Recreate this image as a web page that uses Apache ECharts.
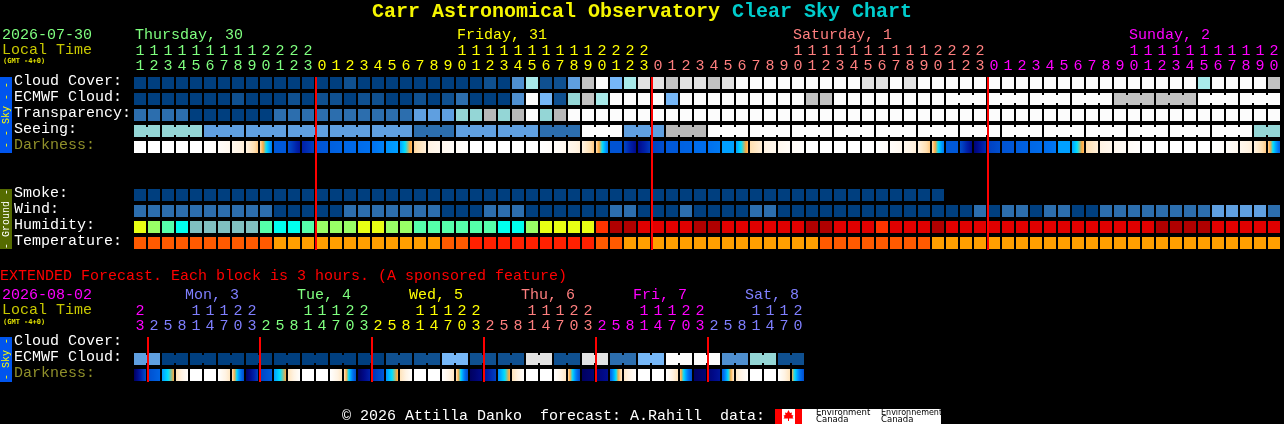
<!DOCTYPE html>
<html><head><meta charset="utf-8">
<style>html,body{margin:0;padding:0;background:#000;overflow:hidden}#c{width:1284px;height:424px}</style>
<script src="https://cdn.jsdelivr.net/npm/echarts@6/dist/echarts.min.js"></script>
</head><body><div id="c"></div>
<script>
// ---------- categories ----------
const hoursMain=[11,12,13,14,15,16,17,18,19,20,21,22,23,0,1,2,3,4,5,6,7,8,9,10,11,12,13,14,15,16,17,18,19,20,21,22,23,0,1,2,3,4,5,6,7,8,9,10,11,12,13,14,15,16,17,18,19,20,21,22,23,0,1,2,3,4,5,6,7,8,9,10,11,12,13,14,15,16,17,18,19,20];
const hoursExt=[23,2,5,8,11,14,17,20,23,2,5,8,11,14,17,20,23,2,5,8,11,14,17,20,23,2,5,8,11,14,17,20,23,2,5,8,11,14,17,20,23,2,5,8,11,14,17,20];
const rowsMain=['Cloud Cover:','ECMWF Cloud:','Transparency:','Seeing:','Darkness:',' ','  ','Smoke:','Wind:','Humidity:','Temperature:'];
const rowsExt=['Cloud Cover:','ECMWF Cloud:','Darkness:'];
const midnightsMain=[13,37,61];
const midnightsExt=[1,9,17,25,33,41];
const dayLabelsMain=['Thursday, 30','Friday, 31','Saturday, 1','Sunday, 2'];
const dayLabelCellsMain=[0,23,47,71];
const dayStartsMain=[0,13,37,61];
const dayColorsMain=['#7fff7f','#ffff00','#ff7f7f','#ff00ff'];
const dayLabelsExt=['Mon, 3','Tue, 4','Wed, 5','Thu, 6','Fri, 7','Sat, 8'];
const dayLabelCellsExt=[3,11,19,27,35,43];
const dayStartsExt=[0,1,9,17,25,33,41];
const dayColorsExt=['#ff00ff','#7f7fff','#7fff7f','#ffff00','#ff7f7f','#ff00ff','#7f7fff'];

// ---------- series values (palette indices) ----------
const cloudCover=[0,0,0,0,0,0,0,0,0,0,0,0,0,0,0,1,0,0,0,0,0,0,0,0,0,1,0,3,6,1,1,4,8,10,5,6,9,9,8,9,9,8,9,10,10,10,10,10,10,10,10,10,9,9,10,9,10,10,10,10,10,10,10,10,10,10,10,10,10,10,10,10,10,10,10,10,6,10,10,10,10,8];
const ecmwfCloud=[0,0,0,0,0,0,0,1,0,0,0,1,0,1,1,0,1,1,0,0,1,0,1,2,0,0,0,3,10,5,1,7,8,6,10,10,10,10,5,10,10,10,10,10,10,10,10,10,8,8,10,10,10,10,10,10,10,10,10,10,10,10,10,10,10,10,10,10,10,10,8,8,8,8,8,8,10,10,10,10,10,10];
const ecmwfBlocks=[1,1,1,1,1,1,1,1,1,1,1,1,1,1,1,1,1,1,1,1,1,1,1,1,1,1,1,1,1,1,1,1,1,1,1,1,1,1,1,1,1,1,1,1,1,1,1,1,1,1,1,1,1,1,1,1,1,1,3,3,3,3,3,3,3,3];
const transparency=[2,2,2,2,0,0,0,0,0,0,2,2,2,2,2,2,2,2,2,2,4,4,4,7,7,11,7,11,10,7,11,10,10,10,10,10,10,10,10,10,10,10,10,10,10,10,10,10,10,10,10,10,10,10,10,10,10,10,10,10,10,10,10,10,10,10,10,10,10,10,10,10,10,10,10,10,10,10,10,10,10,10];
const seeingBlocks=[2,3,3,3,3,3,3,3,3,3,3,3,3,3,3,3,3,3,3,3,3,3,3,3,3,3,3,2];
const seeingValues=[7,7,4,4,4,4,4,2,4,4,2,10,4,11,10,10,10,10,10,10,10,10,10,10,10,10,10,7];
const smoke=[0,0,0,0,0,0,0,0,0,0,0,0,0,0,0,0,0,0,0,0,0,0,0,0,0,0,0,0,0,0,0,0,0,0,0,0,0,0,0,0,0,0,0,0,0,0,0,0,0,0,0,0,0,0,0,0,0,0];
const wind=[2,2,2,2,2,2,2,2,2,2,0,0,0,0,0,2,2,2,2,2,2,2,0,0,0,2,2,2,0,0,0,0,0,0,2,2,0,0,0,2,0,0,0,0,2,2,0,0,0,0,0,0,0,0,0,0,0,0,0,0,2,0,2,2,0,2,2,0,0,2,2,2,2,2,2,2,2,4,4,4,4,2];
const humidity=[0,1,2,3,4,4,4,4,4,2,3,3,2,1,1,1,0,0,1,1,2,2,2,2,2,2,3,3,1,0,0,0,0,5,6,6,7,7,7,7,6,6,7,7,7,7,7,7,6,6,7,7,7,5,7,7,7,6,7,7,7,7,7,7,7,7,7,7,7,7,7,7,7,6,6,6,6,7,7,7,7,7];
const temperature=[1,1,1,1,1,1,1,1,1,1,0,0,0,0,0,0,0,0,0,0,0,0,1,1,2,2,2,2,2,2,2,2,2,1,1,0,0,0,0,0,0,0,0,0,0,0,0,0,0,1,1,1,1,1,1,1,1,0,0,0,0,0,0,0,0,0,0,0,0,0,0,0,0,0,0,0,0,0,0,0,0,0];
const darkness=[[0,0],[0,0],[0,0],[0,0],[0,0],[0,.2],[.2,.6],[.6,1.2],[1,2.4],[2,5.8],[7,7],[7.5,9.5],[9,8],[7.2,7],[6.7,6.5],[6.4,6.3],[6.2,6],[6,5.6],[5.3,5],[5,2.6],[2.2,1.2],[1,.6],[.6,.3],[.3,.1],[0,0],[0,0],[0,0],[0,0],[0,0],[0,.2],[.2,.6],[.6,1.2],[1,2.4],[2,5.8],[7.2,7.2],[7.8,10],[10,8.2],[8,7.4],[7,7],[6.6,6.5],[6.2,6.1],[6,5.8],[5,5],[5,2.6],[2,1.2],[1,.6],[.6,.3],[.3,.1],[0,0],[0,0],[0,0],[0,0],[0,0],[0,.2],[.2,.6],[.6,1.2],[1,2.4],[2,5.8],[7,7],[7.5,10],[10.5,8.5],[8,7.4],[7.2,7],[6.8,6.6],[6.4,6.2],[6.2,5.8],[5,5],[5,2.6],[2,1.2],[1,.6],[.6,.3],[.3,.1],[0,0],[0,0],[0,0],[0,0],[0,0],[0,.2],[.2,.6],[.6,1.2],[1,2.4],[2.2,6.5]];
const extEcmwfBlocks=[2,2,2,2,2,2,2,2,2,2,2,2,2,2,2,2,2,2,2,2,2,2,2,2];
const extEcmwfValues=[4,0,0,0,0,0,0,0,0,1,1,5,1,1,9,1,9,2,5,10,10,3,7,1];
const extDarkness=[[11,7.5],[7.4,6.5],[5,3],[1.8,.1],[0,0],[0,0],[0,1.6],[1.8,7.5],[11,8],[7.8,6.8],[5,3],[1.8,.1],[0,0],[0,0],[0,1.6],[1.8,7.5],[11,9],[8.5,7],[5.2,2.8],[1.8,.1],[0,0],[0,0],[0,1.6],[1.8,7.5],[11,10],[9.5,8],[5.5,2.8],[1.8,.1],[0,0],[0,0],[0,1.6],[2,7.5],[11,10.5],[10.5,9.8],[6.5,1.5],[1.5,.1],[0,0],[0,0],[0,1.8],[2.5,7.5],[11,10.5],[10.5,9.5],[6.8,1.5],[1.5,.1],[0,0],[0,0],[0,1.8],[3,7.5]];

// ---------- palettes ----------
const skyPalette=['#003f7f','#0f5090','#2c6eae','#4f8fcf','#5f9fe0','#76b7f7','#a8eaea','#94d6d6','#c2c2c2','#e2e2e2','#fcfcfc','#b8b8b8'];
const humidityPalette=['#e8ff14','#99ff66','#55ffaa','#00ffee','#80c0c0','#ff3300','#b00000','#e00000'];
const temperaturePalette=['#ff9f00','#ff5a00','#ff2000'];
const darkRamp=['#ffffff','#fff3e3','#ffdfb0','#ffa83c','#00e0ff','#00a0ff','#0070ee','#0058d8','#0040c0','#001fa8','#000a8a','#000060'];

function hex(c){return [1,3,5].map(k=>parseInt(c.substr(k,2),16));}
function rampColor(v){
  const a=Math.max(0,Math.min(darkRamp.length-1,v)),i=Math.min(darkRamp.length-2,Math.floor(a)),t=a-i;
  const p=hex(darkRamp[i]),q=hex(darkRamp[i+1]);
  return 'rgb('+p.map((x,k)=>Math.round(x+(q[k]-x)*t)).join(',')+')';
}
function gradient(pair){
  const stops=[];
  for(let k=0;k<=12;k++){stops.push({offset:k/12,color:rampColor(pair[0]+(pair[1]-pair[0])*k/12)});}
  return {type:'linear',x:0,y:0,x2:1,y2:0,colorStops:stops};
}
function expand(sizes,values){ // block sizes + per-block values -> per-cell
  const out=[];sizes.forEach((n,b)=>{for(let k=0;k<n;k++)out.push(values?values[b]:(k<n-1));});return out;
}
function cells(list,row,values,palette,blocks){
  const joins=blocks?expand(blocks):[];
  values.forEach((v,i)=>{list.push({i:i,row:row,fill:palette[v],join:!!joins[i]});});
}
function darkCells(list,row,values){values.forEach((p,i)=>{list.push({i:i,row:row,fill:p[0]===p[1]?rampColor(p[0]):gradient(p),join:false});});}

const mainCells=[];
cells(mainCells,0,cloudCover,skyPalette);
cells(mainCells,1,ecmwfCloud,skyPalette,ecmwfBlocks);
cells(mainCells,2,transparency,skyPalette);
cells(mainCells,3,expand(seeingBlocks,seeingValues),skyPalette,seeingBlocks);
darkCells(mainCells,4,darkness);
cells(mainCells,7,smoke,skyPalette);
cells(mainCells,8,wind,skyPalette);
cells(mainCells,9,humidity,humidityPalette);
cells(mainCells,10,temperature,temperaturePalette);
const extCells=[];
cells(extCells,1,expand(extEcmwfBlocks,extEcmwfValues),skyPalette,extEcmwfBlocks);
darkCells(extCells,2,extDarkness);

function blockSeries(list,ax){
  return {type:'custom',coordinateSystem:'cartesian2d',xAxisIndex:ax,yAxisIndex:ax,z:2,silent:true,
    data:list.map((c,k)=>[c.i,c.row,k]),
    renderItem:function(p,api){
      const c=list[api.value(2)],o=api.coord([api.value(0),api.value(1)]);
      const kids=[{type:'rect',shape:{x:o[0]-6,y:o[1]-6,width:12,height:12},style:{fill:c.fill}}];
      if(c.join)kids.push({type:'rect',shape:{x:o[0]+6,y:o[1]-4,width:2,height:8},style:{fill:c.fill}});
      return {type:'group',children:kids};
    }};
}
function midnightSeries(list,ax){
  return {type:'custom',coordinateSystem:'cartesian2d',xAxisIndex:ax,yAxisIndex:ax,z:5,silent:true,
    data:list.map(i=>[i,0]),
    renderItem:function(p,api){
      const o=api.coord([api.value(0),0]),s=p.coordSys;
      return {type:'rect',shape:{x:o[0]-7,y:s.y+2,width:2,height:s.height-3},style:{fill:'#ff0000'}};
    }};
}
function dayLabelSeries(labels,cellsAt,starts,colors,ax,dx,dy){
  return {type:'custom',coordinateSystem:'cartesian2d',xAxisIndex:ax,yAxisIndex:ax,z:3,silent:true,
    data:labels.map((t,k)=>[cellsAt[k],0,k]),
    renderItem:function(p,api){
      const k=api.value(2),i=api.value(0),o=api.coord([i,0]),s=p.coordSys;
      let d=0;starts.forEach((b,j)=>{if(cellsAt[k]>=b)d=j;});
      return {type:'text',x:o[0]+dx,y:s.y+dy,style:{text:labels[k],fill:colors[d],font:FONT,textAlign:'left',textVerticalAlign:'middle'}};
    }};
}
const FONT='15px "Liberation Mono"';
function digits(v){const s=String(v);return (s.length>1?s[0]:' ')+'\n'+s[s.length-1];}
function dayColor(i,starts,colors){let d=0;starts.forEach((b,j)=>{if(i>=b)d=j;});return colors[d];}
function xAxis(grid,data,starts,colors){
  return {gridIndex:grid,type:'category',position:'top',data:data.map((v,i)=>i),boundaryGap:true,
    axisLine:{show:false},axisTick:{show:false},splitLine:{show:false},
    axisLabel:{show:true,interval:0,margin:1,fontFamily:'Liberation Mono',fontSize:15,lineHeight:15,
      formatter:function(v){return digits(data[+v]);},
      color:function(v){return dayColor(+v,starts,colors);}}};
}
function yAxis(grid,data){
  return {gridIndex:grid,type:'category',inverse:true,data:data,
    axisLine:{show:false},axisTick:{show:false},splitLine:{show:false},
    axisLabel:{show:true,interval:0,margin:119,align:'left',verticalAlign:'bottom',lineHeight:3,fontFamily:'Liberation Mono',fontSize:15,
      color:function(v){return v==='Darkness:'?'#8f8f2a':'#ffffff';}}};
}
function txt(x,y,text,fill,font,align){return {type:'text',x:x,y:y,style:{text:text,fill:fill,font:font||FONT,textAlign:align||'left',textVerticalAlign:'middle'},silent:true,z:10};}
function bar(y,h,fill){return {type:'rect',shape:{x:0,y:y,width:12,height:h},style:{fill:fill},silent:true,z:9};}
function barText(yc,text,fill){return {type:'text',x:6,y:yc,rotation:Math.PI/2,style:{text:text,fill:fill,font:'10px "Liberation Mono"',textAlign:'center',textVerticalAlign:'middle'},silent:true,z:10};}

const SMALL='bold 7px "DejaVu Sans Mono"';
const chart=echarts.init(document.getElementById('c'),null,{renderer:'canvas',width:1284,height:424});
chart.setOption({
  backgroundColor:'#000000',animation:false,tooltip:{show:false},
  title:{left:642,top:0,padding:0,textAlign:'center',
    text:'{a|Carr Astronomical Observatory }{b|Clear Sky Chart}',
    textStyle:{rich:{
      a:{color:'#f5f500',fontFamily:'Liberation Mono',fontWeight:'bold',fontSize:20,lineHeight:24},
      b:{color:'#00cccc',fontFamily:'Liberation Mono',fontWeight:'bold',fontSize:20,lineHeight:24}}}},
  grid:[{left:133,top:75,width:1148,height:176,containLabel:false},{left:133,top:335,width:672,height:48,containLabel:false}],
  xAxis:[xAxis(0,hoursMain,dayStartsMain,dayColorsMain),xAxis(1,hoursExt,dayStartsExt,dayColorsExt)],
  yAxis:[yAxis(0,rowsMain),yAxis(1,rowsExt)],
  series:[blockSeries(mainCells,0),midnightSeries(midnightsMain,0),dayLabelSeries(dayLabelsMain,dayLabelCellsMain,dayStartsMain,dayColorsMain,0,-5,-40),
          blockSeries(extCells,1),midnightSeries(midnightsExt,1),dayLabelSeries(dayLabelsExt,dayLabelCellsExt,dayStartsExt,dayColorsExt,1,3,-40)],
  graphic:{elements:[
    txt(2,35,'2026-07-30','#7fff7f'),txt(2,50,'Local Time','#c8c800'),txt(3,61,'(GMT -4+0)','#e0e000',SMALL),
    bar(77,76,'#0055ee'),barText(115,'- - Sky - -','#ffff00'),
    bar(189,60,'#556b00'),barText(219,'- Ground -','#ffffff'),
    txt(0,276,'EXTENDED Forecast. Each block is 3 hours. (A sponsored feature)','#ff0000'),
    txt(2,295,'2026-08-02','#ff00ff'),txt(2,310,'Local Time','#c8c800'),txt(3,322,'(GMT -4+0)','#e0e000',SMALL),
    bar(337,45,'#0055ee'),barText(359,'- Sky -','#ffff00'),
    txt(342,416,'\u00a9 2026 Attilla Danko  forecast: A.Rahill  data:','#ffffff'),
    {type:'rect',shape:{x:775,y:409,width:166,height:15},style:{fill:'#ffffff'},silent:true,z:9},
    {type:'rect',shape:{x:775,y:409,width:7,height:15},style:{fill:'#ff0000'},silent:true,z:10},
    {type:'rect',shape:{x:795,y:409,width:7,height:15},style:{fill:'#ff0000'},silent:true,z:10},
    {type:'polygon',shape:{points:[[788.5,410],[790,413],[792,412.5],[791.5,415],[793.5,415.5],[792.5,417],[793.5,418.5],[789,418.5],[789,421],[788,421],[788,418.5],[783.5,418.5],[784.5,417],[783.5,415.5],[785.5,415],[785,412.5],[787,413]]},style:{fill:'#ff0000'},silent:true,z:11},
    txt(816,413,'Environment','#000000','8.5px "DejaVu Sans"'),txt(816,420,'Canada','#000000','8.5px "DejaVu Sans"'),
    txt(881,413,'Environnement','#000000','8px "DejaVu Sans"'),txt(881,420,'Canada','#000000','8.5px "DejaVu Sans"')
  ]}
});
</script></body></html>
